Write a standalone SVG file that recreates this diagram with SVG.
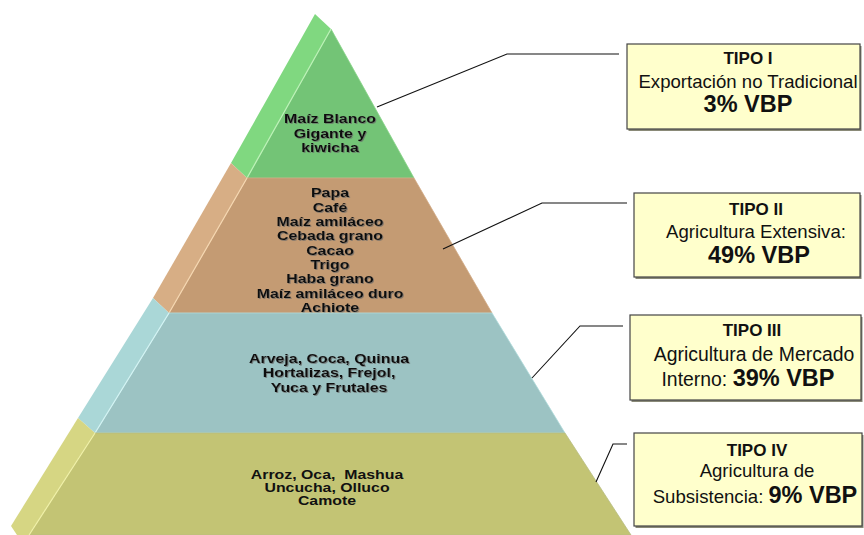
<svg xmlns="http://www.w3.org/2000/svg" width="864" height="535" viewBox="0 0 864 535">
<defs>
<filter id="ts" x="-10%" y="-10%" width="120%" height="130%">
<feDropShadow dx="0.8" dy="0.8" stdDeviation="0.4" flood-color="#666" flood-opacity="0.8"/>
</filter>
</defs>
<style>
.pt{font-family:"Liberation Sans",Arial,sans-serif;font-weight:bold;font-size:13.6px;fill:#111;text-anchor:middle;filter:url(#ts)}
.po{font-family:"Liberation Sans",Arial,sans-serif;font-weight:bold;font-size:13px;fill:#111;text-anchor:middle}
.box{fill:#FFFFCC;stroke:#444;stroke-width:1.2}
.shd{fill:#8a8a78}
.bt{font-family:"Liberation Sans",Arial,sans-serif;font-size:18.6px;fill:#111;text-anchor:middle}
.bb{font-weight:bold;font-size:17px}
.bv{font-weight:bold;font-size:23.5px}
.con{fill:none;stroke:#111;stroke-width:1.1}
</style>
<rect width="864" height="535" fill="#fff"/>

<g id="layer1">
<polygon points="315,14 331,29 247,178 231,163" fill="#80D880"/>
<polygon points="331,29 414,178 247,178" fill="#73C476" stroke="#86D486" stroke-width="0.8"/>
<line x1="331" y1="29" x2="247" y2="178" stroke="#BDF2B8" stroke-width="1.2"/>
<g transform="translate(330 0) scale(1.17 1)">
<text class="pt" x="0" y="123">Maíz Blanco</text>
<text class="pt" x="0" y="138">Gigante y</text>
<text class="pt" x="0" y="152">kiwicha</text>
</g>
</g>

<g id="layer2">
<polygon points="231,163 247,178 169,313 153,298" fill="#D7AE85"/>
<polygon points="247,178 414,178 492,313 169,313" fill="#C49B73" stroke="#D2AA84" stroke-width="0.8"/>
<line x1="247" y1="178" x2="169" y2="313" stroke="#F6D8B2" stroke-width="1.2"/>
<g transform="translate(330 0) scale(1.17 1)">
<text class="pt" x="0" y="197">Papa</text>
<text class="pt" x="0" y="212">Café</text>
<text class="pt" x="0" y="226">Maíz amiláceo</text>
<text class="pt" x="0" y="240">Cebada grano</text>
<text class="pt" x="0" y="255">Cacao</text>
<text class="pt" x="0" y="269">Trigo</text>
<text class="pt" x="0" y="283">Haba grano</text>
<text class="pt" x="0" y="298">Maíz amiláceo duro</text>
<text class="pt" x="0" y="312">Achiote</text>
</g>
</g>

<g id="layer3">
<polygon points="153,298 169,313 95,433 78,418" fill="#AAD7D7"/>
<polygon points="169,313 492,313 565,433 95,433" fill="#9CC3C3" stroke="#AEDADA" stroke-width="0.8"/>
<line x1="169" y1="313" x2="95" y2="433" stroke="#D4F4F4" stroke-width="1.2"/>
<g transform="translate(329 0) scale(1.17 1)">
<text class="pt" x="0" y="363">Arveja, Coca, Quinua</text>
<text class="pt" x="0" y="377">Hortalizas, Frejol,</text>
<text class="pt" x="0" y="392">Yuca y Frutales</text>
</g>
</g>

<g id="layer4">
<polygon points="78,418 95,433 29,535 17,535 11,526" fill="#D6D683"/>
<polygon points="95,433 565,433 631,535 29,535" fill="#C3C474" stroke="#B8BC80" stroke-width="0.8"/>
<line x1="95" y1="433" x2="29" y2="535" stroke="#F2F2A8" stroke-width="1.2"/>
<g transform="translate(327 0) scale(1.22 1)">
<text class="po" x="0" y="479" xml:space="preserve">Arroz, Oca,  Mashua</text>
<text class="po" x="0" y="492">Uncucha, Olluco</text>
<text class="po" x="0" y="505">Camote</text>
</g>
</g>

<g id="connectors">
<polyline class="con" points="377,107 507,54 619,54"/>
<polyline class="con" points="443,249 542,203 627,203"/>
<polyline class="con" points="532,378 580,326 623,326"/>
<polyline class="con" points="596,482 613,444 627,444"/>
</g>

<g id="box1">
<rect class="shd" x="628.5" y="46" width="233" height="85"/>
<rect class="box" x="627" y="44" width="233" height="85"/>
<text class="bt bb" x="748" y="64">TIPO I</text>
<text class="bt" x="748" y="88">Exportación no Tradicional</text>
<text class="bt bv" x="748" y="112">3% VBP</text>
</g>

<g id="box2">
<rect class="shd" x="635.5" y="195" width="226" height="84"/>
<rect class="box" x="634" y="193" width="226" height="84"/>
<text class="bt bb" x="756" y="215">TIPO II</text>
<text class="bt" x="756" y="238">Agricultura Extensiva:</text>
<text class="bt bv" x="759" y="263">49% VBP</text>
</g>

<g id="box3">
<rect class="shd" x="631.5" y="317" width="231" height="85"/>
<rect class="box" x="630" y="315" width="231" height="85"/>
<text class="bt bb" x="752" y="336">TIPO III</text>
<text class="bt" x="754" y="361" style="font-size:19.4px">Agricultura de Mercado</text>
<text class="bt" x="748" y="386" style="font-size:19.4px">Interno: <tspan class="bv">39% VBP</tspan></text>
</g>

<g id="box4">
<rect class="shd" x="635.5" y="435" width="228" height="93"/>
<rect class="box" x="634" y="433" width="228" height="93"/>
<text class="bt bb" x="757" y="456">TIPO IV</text>
<text class="bt" x="757" y="477">Agricultura de</text>
<text class="bt" x="755" y="503">Subsistencia: <tspan class="bv">9% VBP</tspan></text>
</g>
</svg>
